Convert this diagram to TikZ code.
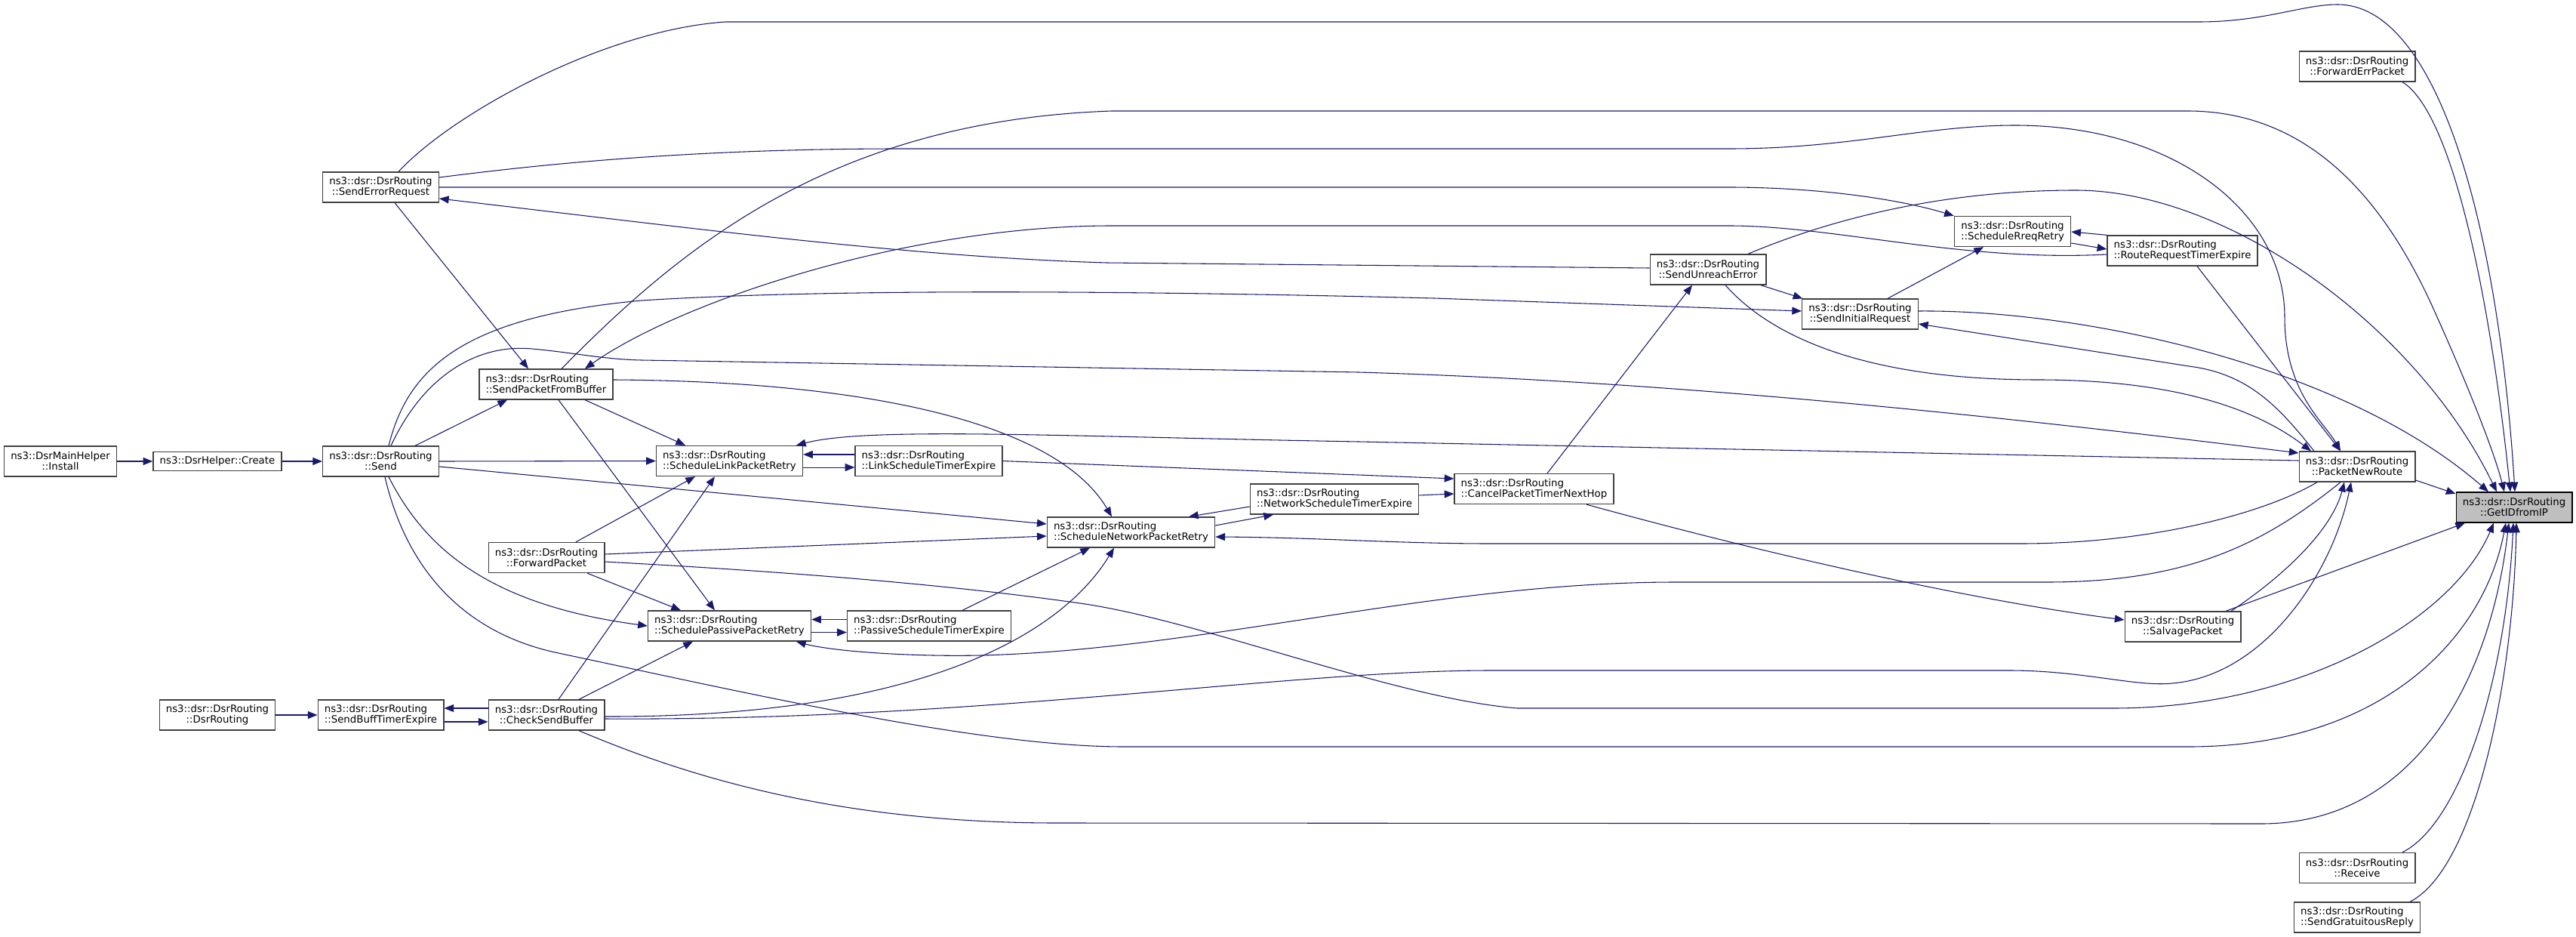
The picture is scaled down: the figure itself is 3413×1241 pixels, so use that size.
\documentclass[tikz,border=0pt]{standalone}
\usepackage{fontspec}
\setmainfont{DejaVu Sans}
\usetikzlibrary{arrows.meta}
\definecolor{edgeblue}{HTML}{191970}
\definecolor{boxline}{HTML}{404040}
\definecolor{rootfill}{HTML}{BFBFBF}
\begin{document}
\begin{tikzpicture}[x=0.75pt, y=-0.75pt,
    fn/.style={draw=boxline, fill=white, line width=1pt, align=center, inner xsep=6.5pt, minimum height=30pt, font=\fontsize{10}{10.5}\selectfont},
    fnl/.style={fn, align=left},
    call/.style={draw=edgeblue, line width=0.8pt, -{Triangle[length=9.5pt,width=7.5pt]}}]
    \useasboundingbox (0,0) rectangle (3413,1241);
    \fill[white] (0,0) rectangle (3413,1241);

    \node [fn] (install) at (80,611) {ns3::DsrMainHelper\\::Install};
    \node [fn, minimum height=19pt] (create) at (288,611) {ns3::DsrHelper::Create};
    \node [fn] (send) at (504.5,611) {ns3::dsr::DsrRouting\\::Send};
    \node [fn] (sendErrReq) at (504.5,248) {ns3::dsr::DsrRouting\\::SendErrorRequest};
    \node [fnl] (sendPktBuf) at (723.5,509) {ns3::dsr::DsrRouting\\::SendPacketFromBuffer};
    \node [fn] (fwdPkt) at (724,738.5) {ns3::dsr::DsrRouting\\::ForwardPacket};
    \node [fn] (checkBuf) at (724,947) {ns3::dsr::DsrRouting\\::CheckSendBuffer};
    \node [fnl] (sendBuffTimer) at (504.5,947) {ns3::dsr::DsrRouting\\::SendBuffTimerExpire};
    \node [fn] (dsrRouting) at (288,947) {ns3::dsr::DsrRouting\\::DsrRouting};
    \node [fnl] (linkRetry) at (966.5,610.5) {ns3::dsr::DsrRouting\\::ScheduleLinkPacketRetry};
    \node [fnl] (passiveRetry) at (966.5,829) {ns3::dsr::DsrRouting\\::SchedulePassivePacketRetry};
    \node [fnl] (linkTimer) at (1230.5,610.5) {ns3::dsr::DsrRouting\\::LinkScheduleTimerExpire};
    \node [fnl] (passiveTimer) at (1231,829) {ns3::dsr::DsrRouting\\::PassiveScheduleTimerExpire};
    \node [fnl] (netRetry) at (1498.5,705) {ns3::dsr::DsrRouting\\::ScheduleNetworkPacketRetry};
    \node [fnl] (netTimer) at (1768,661) {ns3::dsr::DsrRouting\\::NetworkScheduleTimerExpire};
    \node [fnl] (cancelTimer) at (2032.5,647.5) {ns3::dsr::DsrRouting\\::CancelPacketTimerNextHop};
    \node [fn] (sendUnreach) at (2263,357) {ns3::dsr::DsrRouting\\::SendUnreachError};
    \node [fn] (sendInitReq) at (2464.5,416) {ns3::dsr::DsrRouting\\::SendInitialRequest};
    \node [fn] (rreqRetry) at (2666.5,306.5) {ns3::dsr::DsrRouting\\::ScheduleRreqRetry};
    \node [fnl] (rreqTimer) at (2891.5,332) {ns3::dsr::DsrRouting\\::RouteRequestTimerExpire};
    \node [fn] (salvage) at (2892,830) {ns3::dsr::DsrRouting\\::SalvagePacket};
    \node [fn] (newRoute) at (3123,618) {ns3::dsr::DsrRouting\\::PacketNewRoute};
    \node [fn] (fwdErr) at (3123,88) {ns3::dsr::DsrRouting\\::ForwardErrPacket};
    \node [fn] (receive) at (3123,1149.5) {ns3::dsr::DsrRouting\\::Receive};
    \node [fnl] (gratReply) at (3123,1215) {ns3::dsr::DsrRouting\\::SendGratuitousReply};
    \node [fn, draw=black, fill=rootfill] (getId) at (3331,672) {ns3::dsr::DsrRouting\\::GetIDfromIP};

    \draw [call] (install) -- (create);
    \draw [call] (create) -- (send);
    \draw [call] (dsrRouting) -- (sendBuffTimer);
    \draw [call] ([yshift=-6.75pt]sendBuffTimer.east) -- ([yshift=-6.75pt]checkBuf.west);
    \draw [call] ([yshift=6.75pt]checkBuf.west) -- ([yshift=6.75pt]sendBuffTimer.east);

    \draw [call] (send.north -| 550,0) -- (sendPktBuf.south -| 672,0);
    \draw [call] (send.east) -- (linkRetry.west);
    \draw [call] (send.east |- 0,618) -- (netRetry.west |- 0,694);
    \draw [call] (send.north -| 515,0) .. controls (540,490) and (610,420) .. (850,398) .. controls (1100,382) and (1500,385) .. (1900,395) -- (sendInitReq.west |- 0,412);
    \draw [call] (send.north -| 518,0) .. controls (560,500) and (630,455) .. (705,462) .. controls (760,467) and (800,476) .. (850,477) -- (1800,493) .. controls (2200,505) and (2600,545) .. (newRoute.west |- 0,600);
    \draw [call] (send.south -| 515,0) .. controls (560,720) and (640,800) .. (passiveRetry.west);
    \draw [call] (send.south -| 510,0) .. controls (540,760) and (620,840) .. (740,865) .. controls (1000,920) and (1300,989) .. (1489,989) -- (2900,989) .. controls (3150,989) and (3290,850) .. (getId.south -| 3320,0);

    \draw [call] (sendErrReq.south -| 523,0) -- (sendPktBuf.north -| 700,0);
    \draw [call] (sendErrReq.north -| 528,0) .. controls (600,150) and (800,40) .. (961,29) -- (2913,29) .. controls (3000,29) and (3050,6) .. (3097,6) .. controls (3230,6) and (3310,300) .. (getId.north -| 3332,0);
    \draw [call] (sendErrReq.east) -- (2291,248) .. controls (2400,248) and (2510,262) .. (rreqRetry.north west);
    \draw [call] (sendErrReq.east |- 0,235) .. controls (700,220) and (900,197) .. (1193,197) -- (2291,197) .. controls (2450,197) and (2550,166) .. (2670,166) .. controls (2880,166) and (3027,280) .. (3027,420) .. controls (3027,520) and (3080,560) .. (newRoute.north -| 3101,0);

    \draw [call] (sendUnreach.west |- 0,355) -- (1466,348) .. controls (1200,340) and (900,300) .. (sendErrReq.east |- 0,263);
    \draw [call] (sendUnreach.south -| 2333,0) -- ([xshift=1pt]sendInitReq.north west);
    \draw [call] (sendUnreach.south -| 2286,0) .. controls (2350,450) and (2480,503) .. (2700,503) .. controls (2900,503) and (3000,550) .. (newRoute.north -| 3062,0);
    \draw [call] (sendUnreach.north -| 2316,0) .. controls (2450,280) and (2600,252) .. (2750,252) .. controls (2950,252) and (3200,430) .. (getId.north -| 3308,0);

    \draw [call] (sendInitReq.north -| 2501,0) -- (rreqRetry.south -| 2628,0);
    \draw [call] (sendInitReq.east |- 0,412) .. controls (2750,410) and (3100,480) .. (getId.north -| 3297,0);

    \draw [call] (rreqTimer.north west) -- (rreqRetry.east |- 0,307);
    \draw [call] (rreqRetry.east |- 0,322) -- (rreqTimer.west |- 0,330);
    \draw [call] (rreqTimer.west |- 0,337) .. controls (2600,347) and (2430,299) .. (2291,299) -- (1473,299) .. controls (1200,299) and (900,400) .. (sendPktBuf.north -| 775,0);
    \draw [call] (rreqTimer.south -| 2911,0) -- (newRoute.north -| 3101,0);

    \draw [call] (sendPktBuf.north -| 744,0) .. controls (900,330) and (1100,160) .. (1473,147) -- (2898,147) .. controls (3050,147) and (3150,250) .. (3220,400) .. controls (3270,510) and (3305,600) .. (getId.north -| 3318,0);
    \draw [call] (sendPktBuf.south -| 775,0) -- (linkRetry.north -| 908,0);
    \draw [call] (sendPktBuf.south -| 740,0) -- (passiveRetry.north -| 947,0);
    \draw [call] (sendPktBuf.east |- 0,503) .. controls (1150,505) and (1400,560) .. (netRetry.north -| 1473,0);

    \draw [call] (fwdPkt.north -| 763,0) -- (linkRetry.south -| 921,0);
    \draw [call] (fwdPkt.south -| 778,0) -- (passiveRetry.north -| 902,0);
    \draw [call] (fwdPkt.east |- 0,734) -- (netRetry.west |- 0,710);
    \draw [call] (fwdPkt.east |- 0,744) .. controls (1100,760) and (1300,780) .. (1438,800) .. controls (1600,825) and (1850,925) .. (2010,938) -- (2800,938) .. controls (3050,938) and (3250,820) .. (getId.south -| 3304,0);

    \draw [call] (checkBuf.north -| 740,0) -- (linkRetry.south -| 947,0);
    \draw [call] (checkBuf.north -| 767,0) -- (passiveRetry.south -| 918,0);
    \draw [call] (checkBuf.east |- 0,949) .. controls (1200,950) and (1400,850) .. (netRetry.south -| 1476,0);
    \draw [call] (checkBuf.east |- 0,952) .. controls (1300,955) and (1700,888) .. (1975,888) -- (2662,888) .. controls (2760,888) and (2830,910) .. (2878,905) .. controls (3000,895) and (3090,760) .. (newRoute.south -| 3115,0);
    \draw [call] (checkBuf.south -| 767,0) .. controls (900,1024) and (1100,1090) .. (1400,1090) -- (2996,1091) .. controls (3200,1091) and (3300,900) .. (getId.south -| 3324,0);

    \draw [call] ([yshift=6.4pt]linkTimer.west) -- ([yshift=6.4pt]linkRetry.east);
    \draw [call] ([yshift=-6.4pt]linkRetry.east) -- ([yshift=-6.4pt]linkTimer.west);
    \draw [call] ([yshift=6.4pt]passiveTimer.west) -- ([yshift=6.4pt]passiveRetry.east);
    \draw [call] ([yshift=-6.4pt]passiveRetry.east) -- ([yshift=-6.4pt]passiveTimer.west);
    \draw [call] (linkTimer.east) -- (cancelTimer.west |- 0,634);
    \draw [call] (passiveTimer.north -| 1275,0) -- (netRetry.south -| 1444,0);
    \draw [call] (netTimer.west |- 0,671) -- (netRetry.north -| 1575,0);
    \draw [call] (netRetry.east |- 0,696) -- (netTimer.south -| 1687,0);
    \draw [call] (netTimer.east |- 0,656) -- (cancelTimer.west |- 0,654);
    \draw [call] (cancelTimer.north -| 2050,0) -- (sendUnreach.south -| 2242,0);
    \draw [call] (cancelTimer.south -| 2102,0) .. controls (2400,750) and (2650,800) .. (salvage.west |- 0,821);

    \draw [call] (newRoute.north -| 3066,0) .. controls (3020,540) and (2980,495) .. (2900,485) -- (sendInitReq.east |- 0,429);
    \draw [call] (newRoute.west |- 0,610) -- (1800,585) .. controls (1400,578) and (1150,565) .. (linkRetry.north -| 1055,0);
    \draw [call] (newRoute.south -| 3070,0) .. controls (3000,680) and (2850,720) .. (2677,720) -- (1975,720) .. controls (1850,720) and (1750,712) .. (netRetry.east |- 0,711);
    \draw [call] (newRoute.south -| 3101,0) .. controls (3000,720) and (2900,771) .. (2712,771) -- (2221,771) .. controls (1900,771) and (1600,860) .. (1300,868) .. controls (1200,870) and (1100,862) .. (passiveRetry.south -| 1055,0);
    \draw [call] (newRoute.east |- 0,636) -- (getId.west |- 0,654);

    \draw [call] (salvage.north -| 2956,0) .. controls (3030,760) and (3090,700) .. (newRoute.south -| 3106,0);
    \draw [call] (salvage.north -| 2949,0) -- (getId.south -| 3266,0);

    \draw [call] (fwdErr.south -| 3183,0) .. controls (3250,150) and (3300,400) .. (getId.north -| 3326,0);
    \draw [call] (receive.north -| 3183,0) .. controls (3260,1090) and (3320,900) .. (getId.south -| 3330,0);
    \draw [call] (gratReply.north -| 3193,0) .. controls (3280,1150) and (3330,900) .. (getId.south -| 3334,0);
\end{tikzpicture}
\end{document}
